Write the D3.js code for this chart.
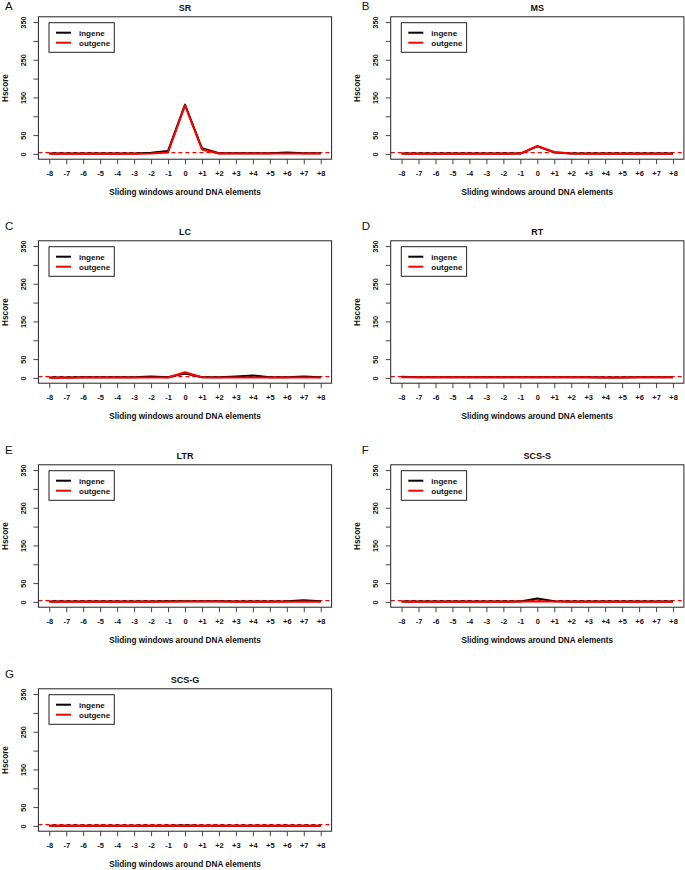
<!DOCTYPE html>
<html>
<head>
<meta charset="utf-8">
<script src="https://cdn.jsdelivr.net/npm/d3@7"></script>
<style>
  html, body { margin: 0; padding: 0; background: #fff; }
  svg { display: block; }
  text { font-family: "Liberation Sans", Arial, Helvetica, sans-serif; }
</style>
</head>
<body>
<svg id="chart" width="685" height="870"></svg>
<script>
// ---------- data ----------
const windows = ["-8","-7","-6","-5","-4","-3","-2","-1","0","+1","+2","+3","+4","+5","+6","+7","+8"];
const panelNames = ["SR","MS","LC","RT","LTR","SCS-S","SCS-G"];
const panelLetters = ["A","B","C","D","E","F","G"];
const seriesNames = ["ingene","outgene"];
const yTicks = [0,50,100,150,200,250,300,350];
const yTickLabels = [0,50,150,250,350];
const threshold = 3.5;

const SR_ingene   = [1,1,1,1,1,1,3,8,131,15,2,2,2,2,4,2,2];
const SR_outgene  = [0.5,0.5,0.5,0.5,0.5,0.5,1,4,129,12,1,1,1,1,1,1,1];
const MS_ingene   = [1,1,1,1,1,1,1,1,20,4,1,1,1,1,1,1,1];
const MS_outgene  = [0.5,0.5,0.5,0.5,0.5,0.5,0.5,1,21,5,1,0.5,0.5,0.5,0.5,0.5,0.5];
const LC_ingene   = [1,1,1.5,1.5,1.5,2,4,2,12,2,2,4,6.5,2,2,3.5,1.5];
const LC_outgene  = [0.5,0.5,1,1,1,1,1,1,15,2,1,1,1,1,1,1,1];
const RT_ingene   = [3,2,1.5,1.5,2,1.5,1.5,1.5,2,1.5,2,1.5,1,1,1.5,1.5,1.5];
const RT_outgene  = [2,1.5,1.5,1.5,1.5,1.5,1.5,1.5,2,1.5,2,1.5,1,1,1.5,1.5,1.5];
const LTR_ingene  = [1,1,1,1,1,1,1,1.5,2,1.5,2,1,1,1,1.5,4.5,1.5];
const LTR_outgene = [0.5,0.5,0.5,0.5,0.5,0.5,0.5,0.5,1,1,1,0.5,0.5,0.5,0.5,1,0.5];
const SCSS_ingene = [1,1,1,1,1,1,1,1,9,2,1,1,1,1,1,1,1];
const SCSS_outgene= [0.5,0.5,0.5,0.5,0.5,0.5,0.5,1,2,1,0.5,0.5,0.5,0.5,0.5,0.5,0.5];
const SCSG_ingene = [0.5,0.5,0.5,0.5,0.5,0.5,0.5,0.5,1,0.5,0.5,0.5,0.5,0.5,0.5,0.5,0.5];
const SCSG_outgene= [0.5,0.5,0.5,0.5,0.5,0.5,0.5,0.5,0.5,0.5,0.5,0.5,0.5,0.5,0.5,0.5,0.5];

const ingeneSeries  = [SR_ingene, MS_ingene, LC_ingene, RT_ingene, LTR_ingene, SCSS_ingene, SCSG_ingene];
const outgeneSeries = [SR_outgene, MS_outgene, LC_outgene, RT_outgene, LTR_outgene, SCSS_outgene, SCSG_outgene];

// ---------- layout ----------
const svg = d3.select("#chart");
svg.append("rect").attr("width",685).attr("height",870).attr("fill","#fff");

const colDX = [0, 352.3];
const rowDY = 224;
const letterX = [5, 361.7];
const letterY = [10, 230, 454, 678];
const box = {x0: 38.4, x1: 331.6, y0: 16.8, y1: 159.2};
const colors = {ingene: "#000000", outgene: "#FF0000"};

panelNames.forEach((name, p) => {
  const col = p % 2, row = Math.floor(p / 2);
  const g = svg.append("g").attr("transform", `translate(${colDX[col]},${row*rowDY})`);

  const x = d3.scaleLinear().domain([-0.64, 16.64]).range([box.x0, box.x1]);
  const y = d3.scaleLinear().domain([-14, 364]).range([box.y1, box.y0]);

  // panel letter (absolute position)
  svg.append("text").attr("x", letterX[col]).attr("y", letterY[row])
    .attr("font-size", 11.5).attr("fill", "#111").text(panelLetters[p]);

  // title
  g.append("text").attr("x", (box.x0+box.x1)/2).attr("y", 10.5)
    .attr("text-anchor","middle").attr("font-size", 9).attr("font-weight","bold")
    .attr("fill","#111").text(name);

  // clip
  const clipId = "clip" + p;
  g.append("clipPath").attr("id", clipId).append("rect")
    .attr("x", box.x0).attr("y", box.y0).attr("width", box.x1-box.x0).attr("height", box.y1-box.y0);

  // threshold dashed
  g.append("line").attr("clip-path", `url(#${clipId})`)
    .attr("x1", box.x0).attr("x2", box.x1).attr("y1", y(threshold)).attr("y2", y(threshold))
    .attr("stroke", colors.outgene).attr("stroke-width", 1.2).attr("stroke-dasharray", "4,3");

  // lines
  const line = d3.line().x((d,i) => x(i)).y(d => y(d));
  [["ingene", ingeneSeries[p]], ["outgene", outgeneSeries[p]]].forEach(([s, vals]) => {
    g.append("path").datum(vals).attr("d", line)
      .attr("fill","none").attr("stroke", colors[s]).attr("stroke-width", 2)
      .attr("stroke-linejoin","round");
  });

  // box
  g.append("rect").attr("x", box.x0).attr("y", box.y0)
    .attr("width", box.x1-box.x0).attr("height", box.y1-box.y0)
    .attr("fill","none").attr("stroke","#222").attr("stroke-width",1);

  // x axis
  const xAxis = d3.axisBottom(x).tickValues(d3.range(windows.length))
    .tickFormat(i => windows[i]).tickSize(5).tickSizeOuter(0);
  const xa = g.append("g").attr("transform", `translate(0,${box.y1})`).call(xAxis);
  xa.select(".domain").remove();
  xa.selectAll(".tick line").attr("stroke","#444");
  xa.selectAll(".tick text").attr("y", 16.8).attr("dy", 0)
    .attr("font-size", 7.5).attr("font-weight","bold").attr("fill","#111")
    .attr("font-family", '"Liberation Sans", Arial, sans-serif');

  // y axis
  const yAxis = d3.axisLeft(y).tickValues(yTicks)
    .tickFormat(v => yTickLabels.includes(v) ? String(v) : "").tickSize(5).tickSizeOuter(0);
  const ya = g.append("g").attr("transform", `translate(${box.x0},0)`).call(yAxis);
  ya.select(".domain").remove();
  ya.selectAll(".tick line").attr("stroke","#444");
  ya.selectAll(".tick text").attr("x", 0).attr("dy", 0)
    .attr("transform","translate(-12.4,0) rotate(-90)")
    .attr("text-anchor","middle")
    .attr("font-size", 7.3).attr("font-weight","bold").attr("fill","#111")
    .attr("font-family", '"Liberation Sans", Arial, sans-serif');

  // axis titles
  g.append("text").attr("x", (box.x0+box.x1)/2).attr("y", 195)
    .attr("text-anchor","middle").attr("font-size", 8.2).attr("font-weight","bold")
    .attr("fill","#111").text("Sliding windows around DNA elements");
  g.append("text").attr("transform", `translate(7.6,${(box.y0+box.y1)/2}) rotate(-90)`)
    .attr("text-anchor","middle").attr("font-size", 8.2).attr("font-weight","bold")
    .attr("fill","#111").text("Hscore");

  // legend
  const lg = g.append("g");
  lg.append("rect").attr("x", 49).attr("y", 22.7).attr("width", 65.3).attr("height", 29.6)
    .attr("fill","#fff").attr("stroke","#222").attr("stroke-width",1);
  seriesNames.forEach((s, k) => {
    const ly = 32.7 + k*10;
    lg.append("line").attr("x1", 56).attr("x2", 71).attr("y1", ly).attr("y2", ly)
      .attr("stroke", colors[s]).attr("stroke-width", 2);
    lg.append("text").attr("x", 79).attr("y", ly + 2.8)
      .attr("font-size", 8).attr("font-weight","bold").attr("fill","#111").text(s);
  });
});
</script>
</body>
</html>
